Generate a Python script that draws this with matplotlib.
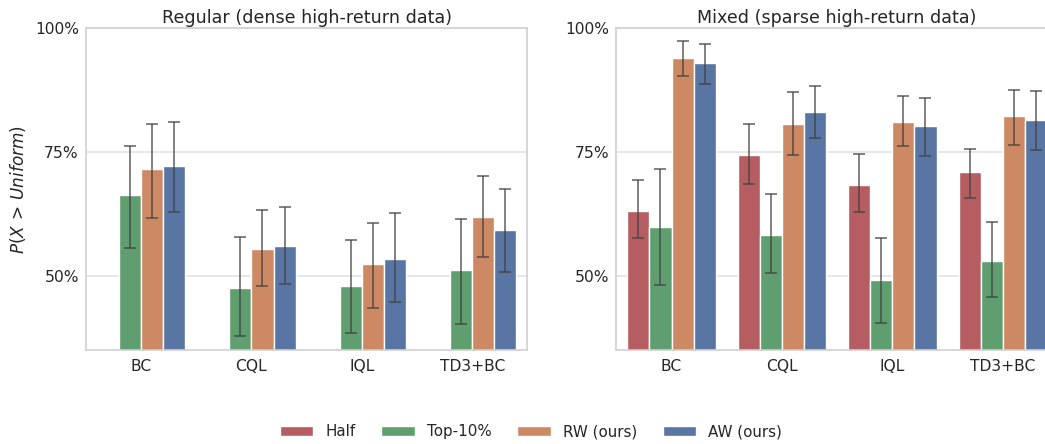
import colorsys
import numpy as np
import matplotlib
matplotlib.use("Agg")
import matplotlib.pyplot as plt
import matplotlib.colors as mcolors
from matplotlib.patches import Patch
from matplotlib.ticker import FuncFormatter
import seaborn as sns

sns.set_theme(style="whitegrid")
plt.rcParams["font.family"] = ["DejaVu Sans"]
plt.rcParams["mathtext.fontset"] = "dejavusans"

algorithms = ["BC", "CQL", "IQL", "TD3+BC"]
methods = ["Half", "Top-10%", "RW (ours)", "AW (ours)"]

# Regular datasets: Half not evaluated
regular_mean = {
    "Half":      [np.nan, np.nan, np.nan, np.nan],
    "Top-10%":   [66.4, 47.6, 48.0, 51.2],
    "RW (ours)": [71.7, 55.4, 52.5, 62.0],
    "AW (ours)": [72.3, 56.0, 53.4, 59.3],
}
regular_lo = {
    "Half":      [np.nan, np.nan, np.nan, np.nan],
    "Top-10%":   [55.7, 37.9, 38.6, 40.3],
    "RW (ours)": [61.7, 48.0, 43.6, 53.9],
    "AW (ours)": [63.0, 48.3, 44.7, 50.9],
}
regular_hi = {
    "Half":      [np.nan, np.nan, np.nan, np.nan],
    "Top-10%":   [76.2, 57.9, 57.2, 61.6],
    "RW (ours)": [80.7, 63.4, 60.8, 70.1],
    "AW (ours)": [81.0, 64.0, 62.7, 67.6],
}

mixed_mean = {
    "Half":      [63.2, 74.5, 68.4, 71.0],
    "Top-10%":   [60.0, 58.3, 49.2, 53.0],
    "RW (ours)": [94.1, 80.7, 81.1, 82.3],
    "AW (ours)": [93.0, 83.1, 80.2, 81.4],
}
mixed_lo = {
    "Half":      [57.7, 68.6, 62.9, 65.8],
    "Top-10%":   [48.2, 50.7, 40.6, 45.8],
    "RW (ours)": [90.3, 74.5, 76.2, 76.4],
    "AW (ours)": [88.8, 77.8, 74.3, 75.4],
}
mixed_hi = {
    "Half":      [69.4, 80.6, 74.6, 75.7],
    "Top-10%":   [71.7, 66.6, 57.6, 60.9],
    "RW (ours)": [97.4, 87.1, 86.3, 87.6],
    "AW (ours)": [96.9, 88.3, 85.9, 87.3],
}


def desaturate(color, prop=0.75):
    r, g, b = mcolors.to_rgb(color)
    h, l, s = colorsys.rgb_to_hls(r, g, b)
    return colorsys.hls_to_rgb(h, l, s * prop)


deep = sns.color_palette("deep")
palette = {
    "Half": desaturate(deep[3]),
    "Top-10%": desaturate(deep[2]),
    "RW (ours)": desaturate(deep[1]),
    "AW (ours)": desaturate(deep[0]),
}

W, H = 1045, 444
fig = plt.figure(figsize=(W / 100, H / 100), dpi=100)
ax_l = fig.add_axes([85.8 / W, 1 - 350.4 / H, 441.7 / W, 322.1 / H])
ax_r = fig.add_axes([616.3 / W, 1 - 350.4 / H, 441.7 / W, 322.1 / H])

bar_w = 0.2
x = np.arange(len(algorithms))


def draw_panel(ax, mean, lo, hi, title):
    for k, m in enumerate(methods):
        vals = np.array(mean[m], dtype=float) / 100
        if np.all(np.isnan(vals)):
            continue
        lower = vals - np.array(lo[m]) / 100
        upper = np.array(hi[m]) / 100 - vals
        pos = x + (k - 1.5) * bar_w
        ax.bar(pos, vals, width=bar_w, color=palette[m], edgecolor="white",
               linewidth=1.0, zorder=2)
        ax.errorbar(pos, vals, yerr=[lower, upper], fmt="none",
                    ecolor="#424242", elinewidth=1.1, capsize=4,
                    capthick=1.1, alpha=0.85, zorder=3)
    ax.set_xlim(-0.5, len(algorithms) - 0.5)
    ax.set_ylim(0.35, 1.0)
    ax.set_yticks([0.5, 0.75, 1.0])
    ax.yaxis.set_major_formatter(FuncFormatter(lambda v, _: f"{v * 100:.0f}%"))
    ax.set_xticks(x)
    ax.set_xticklabels(algorithms)
    ax.grid(axis="x", visible=False)
    ax.grid(axis="y", color="#e3e3e3", linewidth=1.2)
    ax.set_axisbelow(True)
    ax.tick_params(axis="both", labelsize=11.2, colors="#262626", length=0)
    ax.tick_params(axis="y", pad=5)
    ax.tick_params(axis="x", pad=6)
    for s in ax.spines.values():
        s.set_color("#d0d0d0")
        s.set_linewidth(1.2)
    ax.set_title(title, fontsize=12.6, color="#262626", pad=4)


draw_panel(ax_l, regular_mean, regular_lo, regular_hi,
           "Regular (dense high-return data)")
draw_panel(ax_r, mixed_mean, mixed_lo, mixed_hi,
           "Mixed (sparse high-return data)")

ax_l.set_ylabel(r"$P(X\,>\,Uniform)$", fontsize=12.2, color="#262626", labelpad=5)

handles = [Patch(facecolor=palette[m], edgecolor="white", label=m) for m in methods]
fig.legend(handles=handles, loc="center", bbox_to_anchor=(531 / W, 1 - 431.7 / H),
           ncol=4, frameon=False, fontsize=10.9, handlelength=2.2,
           handleheight=0.7, handletextpad=0.8, columnspacing=1.7)

fig.savefig("out.png", dpi=100)
